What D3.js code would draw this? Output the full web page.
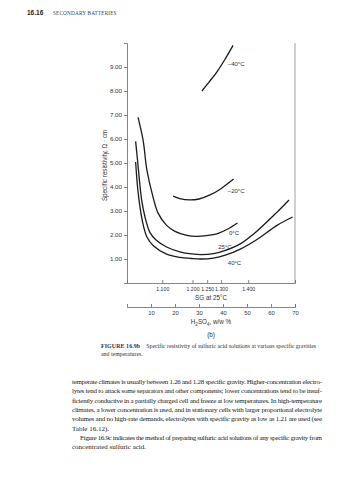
<!DOCTYPE html>
<html><head><meta charset="utf-8">
<script src="https://cdn.jsdelivr.net/npm/d3@7"></script>
<style>
html,body{margin:0;padding:0;background:#fff;}
svg{display:block;}
</style></head>
<body>
<script>
// ---- data (x: H2SO4 w/w %, y: specific resistivity, ohm·cm) ----
const seriesNames = ["\u201340\u00B0C", "\u201320\u00B0C", "0\u00B0C", "25\u00B0C", "40\u00B0C"];
const m40 = [[31.2,8.0],[34,8.35],[37.5,8.8],[41,9.35],[44.2,9.9]];
const m20 = [[19.2,3.62],[22,3.52],[26,3.46],[30,3.5],[34.6,3.67],[39,3.92],[44.4,4.33]];
const t0  = [[4.6,6.9],[6.7,5.95],[8.3,4.7],[10.8,3.6],[13,2.9],[16.5,2.4],[20,2.15],[25,1.98],[29,1.94],[33,1.97],[38,2.07],[42,2.25],[46,2.5]];
const t25 = [[3.6,5.9],[4.5,5.0],[6.1,3.46],[7.5,2.75],[9.6,2.1],[12,1.8],[16.5,1.5],[22,1.3],[27,1.21],[31,1.18],[36,1.22],[41,1.36],[47,1.62],[54,2.15],[62,2.9],[67.5,3.46]];
const t40 = [[3.6,5.04],[4.4,4.0],[5.4,3.17],[6.8,2.4],[8.3,1.92],[11,1.55],[16.5,1.2],[22,1.07],[27,1.02],[31,1.0],[36,1.04],[41,1.16],[47,1.4],[54,1.8],[62.5,2.4],[69,2.75]];
const seriesData = [m40, m20, t0, t25, t40];
const labelAt = [[42,9.04],[42,3.75],[42.5,2.0],[38,1.42],[42,0.74]];

const yTicks = [1,2,3,4,5,6,7,8,9];
const sgTickLabels = ["1.100","1.200","1.250","1.300","1.400"];
const sgTickWw = [14.7, 27.3, 33.4, 39.2, 50.5];
const wwTicks = [10,20,30,40,50,60,70];

const paragraph = [
 "temperate climates is usually between 1.26 and 1.28 specific gravity. Higher-concentration electro-",
 "lytes tend to attack some separators and other components; lower concentrations tend to be insuf-",
 "ficiently conductive in a partially charged cell and freeze at low temperatures. In high-temperature",
 "climates, a lower concentration is used, and in stationary cells with larger proportional electrolyte",
 "volumes and no high-rate demands, electrolytes with specific gravity as low as 1.21 are used (see",
 "Table 16.12).",
 "Figure 16.9c indicates the method of preparing sulfuric acid solutions of any specific gravity from",
 "concentrated sulfuric acid."
];
const justified = [true,true,true,true,true,false,true,false];

// ---- drawing ----
const W = 358, H = 480;
const svg = d3.select("body").append("svg").attr("width", W).attr("height", H);
const sans = "'Liberation Sans', Arial, Helvetica, sans-serif";
const serif = "'Liberation Serif', 'Times New Roman', serif";

// header
svg.append("text").attr("x", 27).attr("y", 15).attr("font-family", sans).attr("font-weight", "bold")
  .attr("font-size", 6.5).attr("fill", "#222").text("16.16");
svg.append("text").attr("x", 53).attr("y", 15).attr("font-family", serif)
  .attr("font-size", 5.2).attr("letter-spacing", 0.2).attr("fill", "#444").text("SECONDARY BATTERIES");

const x = d3.scaleLinear().domain([0,70]).range([127,295]);
const y = d3.scaleLinear().domain([0,10]).range([283,43]);

const axisColor = "#666";
function styleAxis(fs){
  return g => {
    g.selectAll("path,line").attr("stroke", axisColor).attr("stroke-width", 0.8);
    g.selectAll("text").attr("font-family", sans).attr("font-size", fs).attr("fill", "#333");
  };
}

// left axis
svg.append("g").attr("transform", `translate(${x(0)},0)`)
  .call(d3.axisLeft(y).tickValues(yTicks).tickFormat(d3.format(".2f")).tickSize(3).tickSizeOuter(3).tickPadding(2))
  .call(styleAxis(6.2));

// right border
svg.append("line").attr("x1", x(70)).attr("x2", x(70)).attr("y1", y(10)).attr("y2", y(0))
  .attr("stroke", "#888").attr("stroke-width", 0.8);

// SG axis
svg.append("g").attr("transform", `translate(0,${y(0)})`)
  .call(d3.axisBottom(x).tickValues(sgTickWw).tickFormat((d,i)=>sgTickLabels[i]).tickSize(-3).tickSizeOuter(-3).tickPadding(4))
  .call(styleAxis(5.2));
svg.append("text").attr("x", x(35)).attr("y", y(0)+17).attr("text-anchor","middle")
  .attr("font-family", sans).attr("font-size", 6.3).attr("fill", "#333").text("SG at 25\u00B0C");

// w/w axis
const wwY = y(0) + 24;
svg.append("g").attr("transform", `translate(0,${wwY})`)
  .call(d3.axisBottom(x).tickValues(wwTicks).tickFormat(d3.format("d")).tickSize(-3).tickSizeOuter(-3).tickPadding(4))
  .call(styleAxis(5.8));
const wl = svg.append("text").attr("x", x(35)).attr("y", wwY+17).attr("text-anchor","middle")
  .attr("font-family", sans).attr("font-size", 6.3).attr("fill", "#333");
wl.append("tspan").text("H");
wl.append("tspan").attr("font-size", 4.5).attr("dy", 1.5).text("2");
wl.append("tspan").attr("dy", -1.5).text("SO");
wl.append("tspan").attr("font-size", 4.5).attr("dy", 1.5).text("4");
wl.append("tspan").attr("dy", -1.5).text(", w/w %");

svg.append("text").attr("x", x(35)).attr("y", wwY+30).attr("text-anchor","middle")
  .attr("font-family", sans).attr("font-size", 6.3).attr("fill", "#333").text("(b)");

// y label
svg.append("text").attr("transform", `translate(${x(0)-20},${y(4.9)}) rotate(-90)`)
  .attr("text-anchor","middle").attr("font-family", sans).attr("font-size", 6.3).attr("fill", "#333")
  .text("Specific resistivity, \u03A9 \u00B7 cm");

// curves
const line = d3.line().x(d=>x(d[0])).y(d=>y(d[1])).curve(d3.curveCatmullRom.alpha(0.5));
svg.append("g").selectAll("path").data(seriesData).join("path")
  .attr("d", line).attr("fill","none").attr("stroke","#1a1a1a").attr("stroke-width",1.3);

svg.append("g").selectAll("text").data(seriesNames).join("text")
  .attr("x",(d,i)=>x(labelAt[i][0])).attr("y",(d,i)=>y(labelAt[i][1]))
  .attr("font-family", sans).attr("font-size", 6).attr("fill","#333").text(d=>d);

// caption
const capY = wwY + 41;
const cap = svg.append("text").attr("x", 101).attr("y", capY).attr("font-family", serif).attr("font-size", 5.9).attr("fill","#333");
cap.append("tspan").attr("font-weight","bold").attr("letter-spacing",0.1).text("FIGURE 16.9b");
cap.append("tspan").attr("dx", 6).text("Specific resistivity of sulfuric acid solutions at various specific gravities");
svg.append("text").attr("x", 101).attr("y", capY+7.5).attr("font-family", serif).attr("font-size", 5.9).attr("fill","#333")
  .text("and temperatures.");

// paragraph
const pTop = 384, lh = 9.3, pL = 72, pR = 322;
svg.append("g").selectAll("text").data(paragraph).join("text")
  .attr("x",(d,i)=> i===6 ? pL+8 : pL)
  .attr("y",(d,i)=>pTop + i*lh)
  .attr("font-family", serif).attr("font-size", 7).attr("fill","#222")
  .each(function(d,i){
    if (justified[i]) d3.select(this).attr("textLength", pR - (i===6 ? pL+8 : pL)).attr("lengthAdjust","spacing");
  })
  .text(d=>d);
</script>
</body></html>
